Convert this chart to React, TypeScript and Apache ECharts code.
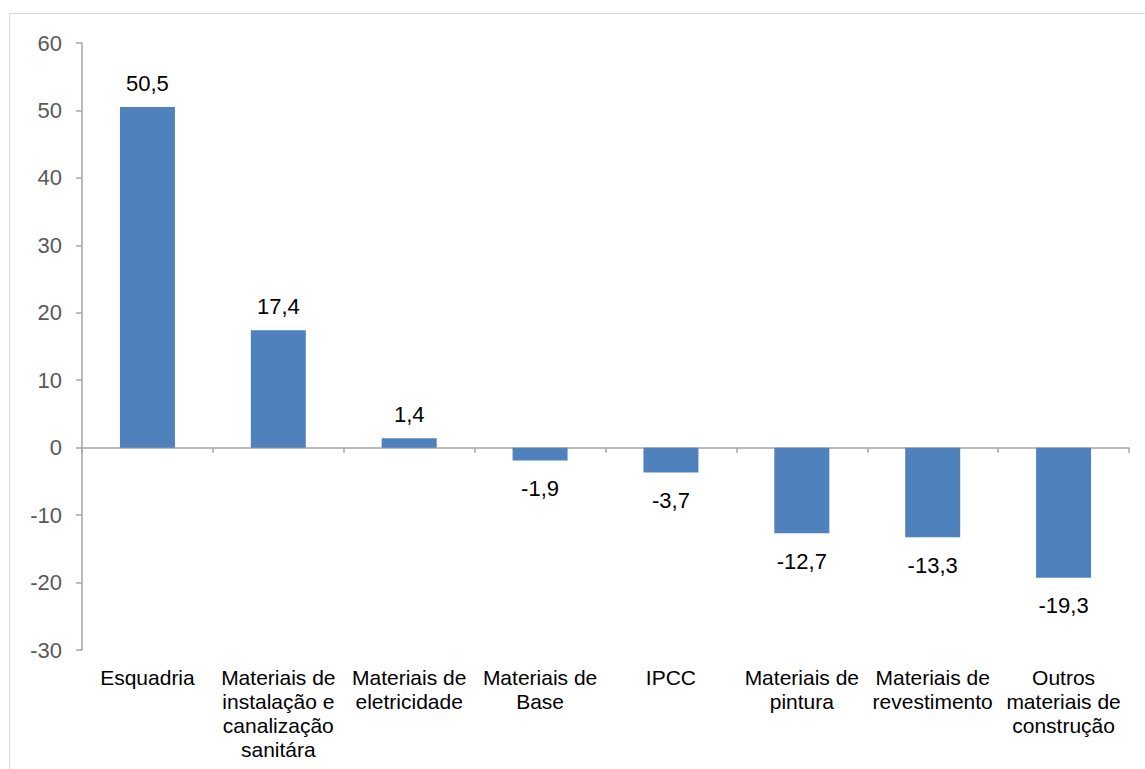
import React, { useEffect, useRef } from "react";
import * as echarts from "echarts";

const categories = [
  "Esquadria",
  "Materiais de\ninstalação e\ncanalização\nsanitára",
  "Materiais de\neletricidade",
  "Materiais de\nBase",
  "IPCC",
  "Materiais de\npintura",
  "Materiais de\nrevestimento",
  "Outros\nmateriais de\nconstrução",
];
const values = [50.5, 17.4, 1.4, -1.9, -3.7, -12.7, -13.3, -19.3];
const yMin = -30;
const yMax = 60;
const yInterval = 10;

const FONT = "'Liberation Sans', Arial, sans-serif";

export default function App() {
  const ref = useRef<HTMLDivElement>(null);
  useEffect(() => {
    if (!ref.current) return;
    const chart = echarts.init(ref.current, null, { renderer: "svg" });
    chart.setOption({
      animation: false,
      backgroundColor: "#ffffff",
      textStyle: { fontFamily: FONT },
      graphic: [
        {
          type: "rect",
          shape: { x: 9.5, y: 13.5, width: 1160, height: 800 },
          style: { fill: "none", stroke: "#d9d9d9", lineWidth: 1 },
          silent: true,
        },
      ],
      grid: { left: 82, right: 16, top: 43, bottom: 119 },
      xAxis: [
        {
          type: "category",
          data: categories,
          position: "bottom",
          axisLine: { show: false, onZero: false },
          axisTick: { show: false },
          axisLabel: {
            interval: 0,
            color: "#000000",
            fontSize: 21,
            fontFamily: FONT,
            lineHeight: 24,
            margin: 15,
            align: "center",
          },
        },
        {
          type: "category",
          data: categories,
          position: "bottom",
          axisLine: { show: true, onZero: true, lineStyle: { color: "#a6a6a6", width: 1.5 } },
          axisTick: { show: true, length: 5, lineStyle: { color: "#a6a6a6", width: 1.5 } },
          axisLabel: { show: false },
        },
      ],
      yAxis: {
        type: "value",
        min: yMin,
        max: yMax,
        interval: yInterval,
        axisLine: { show: true, lineStyle: { color: "#a6a6a6", width: 1.5 } },
        axisTick: { show: true, length: 6, lineStyle: { color: "#a6a6a6", width: 1.5 } },
        splitLine: { show: false },
        axisLabel: { color: "#595959", fontSize: 22, fontFamily: FONT, margin: 20 },
      },
      series: [
        {
          type: "bar",
          xAxisIndex: 0,
          data: values.map((v) => ({
            value: v,
            label: {
              show: true,
              position: v >= 0 ? "top" : "bottom",
              distance: v >= 0 ? 13 : 17,
            },
          })),
          barWidth: 55,
          itemStyle: { color: "#4f81bd" },
          label: {
            show: true,
            color: "#000000",
            fontSize: 22,
            fontFamily: FONT,
            formatter: (p: any) => String(p.value).replace(".", ","),
          },
        },
      ],
    });
    return () => chart.dispose();
  }, []);
  return (
    <div
      ref={ref}
      style={{ position: "fixed", left: 0, top: 0, width: 1145, height: 769 }}
    />
  );
}
